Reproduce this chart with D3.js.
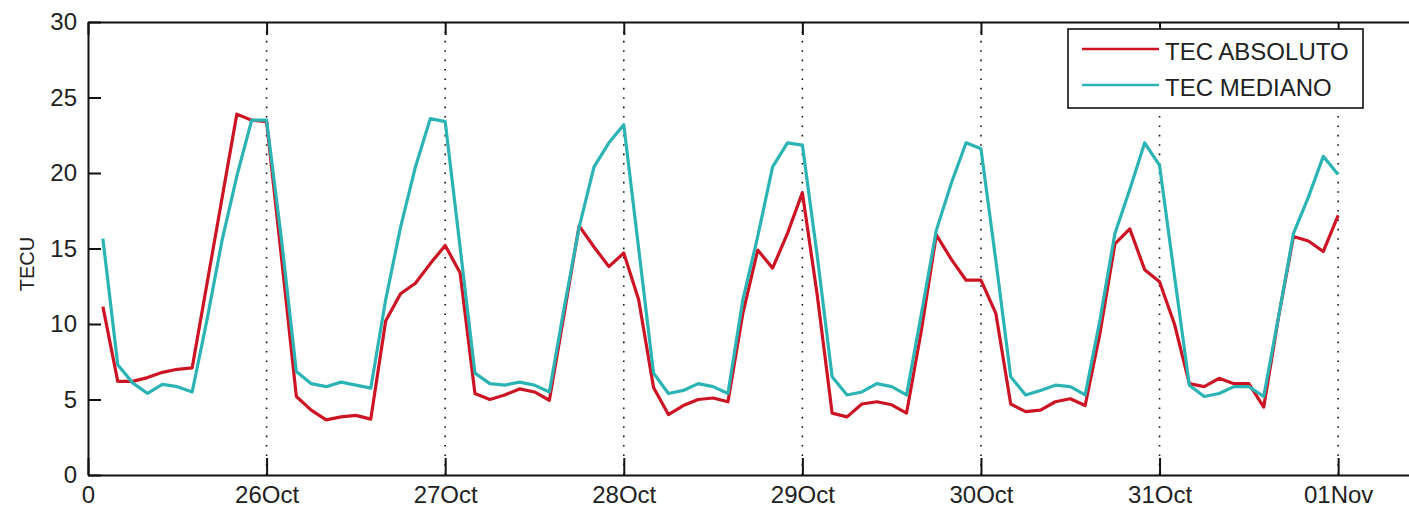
<!DOCTYPE html>
<html>
<head>
<meta charset="utf-8">
<script src="https://cdn.jsdelivr.net/npm/d3@7"></script>
<style>
    body { margin: 0; background: #fff; }
    #chart { width: 1409px; height: 507px; }
    text { font-family: "Liberation Sans", Arial, sans-serif; fill: #222; }
</style>
</head>
<body>
<div id="chart"></div>
<script>
// hours since 25 Oct 00:00 (one sample every 2 h)
const hours = [2, 4, 6, 8, 10, 12, 14, 16, 18, 20, 22, 24,
    26, 28, 30, 32, 34, 36, 38, 40, 42, 44, 46, 48,
    50, 52, 54, 56, 58, 60, 62, 64, 66, 68, 70, 72,
    74, 76, 78, 80, 82, 84, 86, 88, 90, 92, 94, 96,
    98, 100, 102, 104, 106, 108, 110, 112, 114, 116, 118, 120,
    122, 124, 126, 128, 130, 132, 134, 136, 138, 140, 142, 144,
    146, 148, 150, 152, 154, 156, 158, 160, 162, 164, 166, 168]

const tecAbsoluto = [11.15, 6.2, 6.2, 6.45, 6.8, 7.0, 7.1, 12.7, 18.3, 23.9, 23.5, 23.4,
    14.4, 5.2, 4.3, 3.65, 3.85, 3.95, 3.7, 10.2, 12.0, 12.7, 14.0, 15.2,
    13.4, 5.4, 5.0, 5.3, 5.7, 5.5, 4.95, 10.7, 16.5, 15.1, 13.8, 14.7,
    11.6, 5.8, 4.0, 4.6, 5.0, 5.1, 4.85, 10.7, 14.9, 13.7, 16.0, 18.7,
    11.9, 4.1, 3.85, 4.7, 4.85, 4.65, 4.1, 9.6, 15.9, 14.3, 12.9, 12.9,
    10.7, 4.7, 4.2, 4.3, 4.85, 5.05, 4.6, 9.4, 15.3, 16.3, 13.6, 12.8,
    10.0, 6.05, 5.85, 6.4, 6.05, 6.05, 4.5, 10.5, 15.8, 15.5, 14.8, 17.2]

const tecMediano = [15.65, 7.3, 6.1, 5.4, 6.0, 5.85, 5.5, 10.3, 15.5, 19.8, 23.5, 23.5,
    15.6, 6.85, 6.05, 5.85, 6.15, 5.95, 5.75, 11.6, 16.4, 20.4, 23.6, 23.4,
    15.1, 6.75, 6.05, 5.95, 6.15, 5.95, 5.5, 11.1, 16.4, 20.4, 22.0, 23.2,
    15.0, 6.75, 5.4, 5.6, 6.05, 5.85, 5.4, 11.6, 15.8, 20.4, 22.0, 21.85,
    14.5, 6.5, 5.3, 5.5, 6.05, 5.85, 5.3, 10.7, 16.2, 19.3, 22.0, 21.6,
    14.2, 6.5, 5.3, 5.6, 5.95, 5.85, 5.3, 10.3, 16.0, 18.9, 22.0, 20.5,
    13.2, 5.95, 5.2, 5.4, 5.85, 5.85, 5.2, 10.5, 16.0, 18.4, 21.1, 19.9]

const dayTicks = ["2013-10-25", "2013-10-26", "2013-10-27", "2013-10-28",
    "2013-10-29", "2013-10-30", "2013-10-31", "2013-11-01"]
const yTicks = [0, 5, 10, 15, 20, 25, 30]
const seriesNames = ["TEC ABSOLUTO", "TEC MEDIANO"]
const seriesColors = ["#cc1424", "#2cb4b4"]

function draw_chart()
{
    const width = 1409
    const height = 507
    const plot = { left: 88, top: 22, right: 1420, bottom: 475 }

    var svg = d3.select("#chart")
        .append("svg")
            .attr("width", width)
            .attr("height", height)

    const parse = d3.timeParse("%Y-%m-%d")
    const start = parse(dayTicks[0])
    const days = dayTicks.map(parse)
    const toDate = h => d3.timeHour.offset(start, h)

    const x = d3.scaleTime()
        .domain([start, toDate(179)])
        .range([plot.left, plot.right])
    const y = d3.scaleLinear().domain([0, 30]).range([plot.bottom, plot.top])

    // dotted day grid
    svg.append("g")
        .selectAll("line")
        .data(days.slice(1))
        .enter().append("line")
            .attr("x1", d => x(d)).attr("x2", d => x(d))
            .attr("y1", plot.top).attr("y2", plot.bottom)
            .attr("stroke", "#111")
            .attr("stroke-width", 1.6)
            .attr("stroke-dasharray", "1.6 7.8")

    const fmt = d3.timeFormat("%d%b")
    var xAxis = svg.append("g")
        .attr("transform", `translate(0, ${plot.bottom})`)
        .call(d3.axisBottom(x).tickValues(days).tickSizeInner(-17).tickSizeOuter(0).tickPadding(14)
            .tickFormat((d, i) => i == 0 ? "0" : fmt(d)))
    var xTop = svg.append("g")
        .attr("transform", `translate(0, ${plot.top})`)
        .call(d3.axisTop(x).tickValues(days).tickSizeInner(-13).tickSizeOuter(0).tickFormat(""))
    var yAxis = svg.append("g")
        .attr("transform", `translate(${plot.left}, 0)`)
        .call(d3.axisLeft(y).tickValues(yTicks).tickSizeInner(-13).tickSizeOuter(0).tickPadding(11))

    ;[xAxis, xTop, yAxis].forEach(g => {
        g.select(".domain").attr("stroke", "#111").attr("stroke-width", 2)
        g.selectAll(".tick line").attr("stroke", "#111").attr("stroke-width", 2)
        g.selectAll(".tick text").style("font-size", "24px").attr("fill", "#222")
    })
    xAxis.selectAll(".tick text").attr("dy", "0.6em")

    svg.append("text")
        .attr("transform", "translate(34, 264) rotate(-90)")
        .attr("text-anchor", "middle")
        .style("font-size", "20px")
        .text("TECU")

    const line = d3.line()
        .x((d, i) => x(toDate(hours[i])))
        .y(d => y(d))

    ;[tecAbsoluto, tecMediano].forEach((s, i) => {
        svg.append("path")
            .datum(s)
            .attr("fill", "none")
            .attr("stroke", seriesColors[i])
            .attr("stroke-width", 3.2)
            .attr("stroke-linejoin", "round")
            .attr("d", line)
    })

    // legend
    var legend = svg.append("g").attr("transform", "translate(1068, 29)")
    legend.append("rect")
        .attr("width", 295).attr("height", 79)
        .attr("fill", "#fff").attr("stroke", "#111").attr("stroke-width", 1.6)
    seriesNames.forEach((name, i) => {
        legend.append("line")
            .attr("x1", 14).attr("x2", 91)
            .attr("y1", 20 + i * 36).attr("y2", 20 + i * 36)
            .attr("stroke", seriesColors[i]).attr("stroke-width", 2.6)
        legend.append("text")
            .attr("x", 97).attr("y", 22 + i * 36)
            .attr("dominant-baseline", "central")
            .style("font-size", "24px")
            .text(name)
    })
}

draw_chart()
</script>
</body>
</html>
